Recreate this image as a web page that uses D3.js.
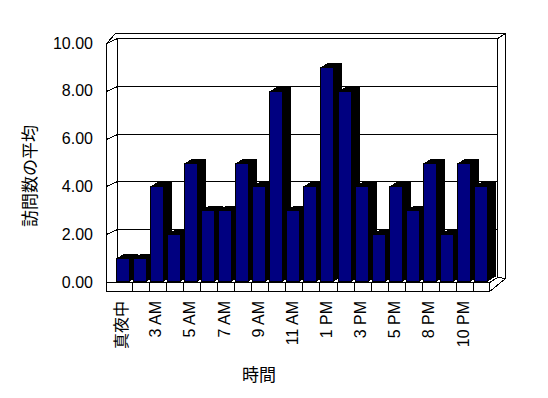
<!DOCTYPE html>
<html>
<head>
<meta charset="utf-8">
<script src="https://cdn.jsdelivr.net/npm/d3@7"></script>
<style>
  body { margin: 0; background: #fff; }
  text { font-family: "Liberation Sans", "Noto Sans CJK JP", sans-serif; }
</style>
</head>
<body>
<script>
const width = 548;
const height = 398;

// 時間帯ごとの訪問数の平均
const hours = ["真夜中", "1 AM", "3 AM", "4 AM", "5 AM", "6 AM", "7 AM", "8 AM", "9 AM", "10 AM", "11 AM", "正午",
    "1 PM", "2 PM", "3 PM", "4 PM", "5 PM", "6 PM", "8 PM", "9 PM", "10 PM", "11 PM"];
const visits = [1, 1, 4, 2, 5, 3, 3, 5, 4, 8, 3, 4, 9, 8, 4, 2, 4, 3, 5, 2, 5, 4];
const yTicks = [0, 2, 4, 6, 8, 10];
const shownLabels = ["真夜中", "3 AM", "5 AM", "7 AM", "9 AM", "11 AM", "1 PM", "3 PM", "5 PM", "8 PM", "10 PM"];

const color = {
    bar: "#000080",
    side: "#000000",
    line: "#000000",
    wall: "#ffffff"
}

// 奥行き（3D のずらし）
const depth = { dx: 11, dy: 5 };
const barDepth = { dx: 8, dy: 5 };

let svg = d3.select("body").append("svg")
    .attr("width", width)
    .attr("height", height)

svg.append("rect")
    .attr("width", width)
    .attr("height", height)
    .attr("fill", "#fff")

let x = d3.scaleBand()
    .domain(hours)
    .range([114.6, 114.6 + 17.07 * hours.length])
    .padding(0);

let y = d3.scaleLinear()
    .domain([0, 10])
    .range([282, 43]);

const left = 106;
const right = x.range()[1] - 1;   // floor front right edge
const floorBottom = 291;

let g = svg.append("g")
    .attr("transform", "translate(0.5,0.5)")
    .attr("shape-rendering", "crispEdges");

// outer box
g.append("polygon")
    .attr("points", [[left, floorBottom], [left, y(10)], [left + 9, y(10) - 10], [right + depth.dx + 5, y(10) - 10],
        [right + depth.dx + 5, y(0) - 4], [right, floorBottom]].map(p => p.join(",")).join(" "))
    .attr("fill", color.wall)
    .attr("stroke", color.line)

// back wall front face
const bx0 = left + depth.dx;
const bx1 = right + depth.dx - 3;
g.append("path")
    .attr("d", `M${bx0},${y(0) - depth.dy}V${y(10) - depth.dy}H${bx1}V${y(0) - depth.dy}`)
    .attr("fill", "none")
    .attr("stroke", color.line)
g.append("line")
    .attr("x1", left).attr("y1", y(10))
    .attr("x2", bx0).attr("y2", y(10) - depth.dy)
    .attr("stroke", color.line)
g.append("line")
    .attr("x1", bx1).attr("y1", y(10) - depth.dy)
    .attr("x2", right + depth.dx + 5).attr("y2", y(10) - 10)
    .attr("stroke", color.line)

// grid lines (left wall tick + back wall)
g.selectAll(".grid")
    .data(yTicks.filter(d => d > 0 && d < 10))
    .enter()
    .append("path")
    .attr("class", "grid")
    .attr("d", d => `M${left},${Math.round(y(d))}L${bx0},${Math.round(y(d)) - depth.dy}H${bx1}`)
    .attr("fill", "none")
    .attr("stroke", color.line)

// floor front face with category ticks
g.append("rect")
    .attr("x", left)
    .attr("y", y(0))
    .attr("width", right - left)
    .attr("height", floorBottom - y(0))
    .attr("fill", color.wall)
    .attr("stroke", color.line)

g.selectAll(".ctick")
    .data(hours.slice(1))
    .enter()
    .append("line")
    .attr("class", "ctick")
    .attr("x1", d => Math.round(x(d)))
    .attr("x2", d => Math.round(x(d)))
    .attr("y1", y(0))
    .attr("y2", floorBottom)
    .attr("stroke", color.line)

// floor right side
g.append("polygon")
    .attr("points", [[right, y(0)], [right, floorBottom], [right + depth.dx + 5, y(0) - 4], [bx1, y(0) - depth.dy]]
        .map(p => p.join(",")).join(" "))
    .attr("fill", color.wall)
    .attr("stroke", color.line)

// bars
let bars = g.selectAll(".bar")
    .data(hours.map((h, i) => ({ h: h, v: visits[i] })))
    .enter()
    .append("g")
    .attr("class", "bar")

bars.each(function (d) {
    const x0 = Math.round(x(d.h)) + 1;
    const x1 = x0 + 13;
    const top = Math.round(y(d.v));
    const bottom = y(0) - 1;
    const sel = d3.select(this);
    // side + top
    sel.append("polygon")
        .attr("points", [[x0, top], [x0 + barDepth.dx, top - barDepth.dy], [x1 + barDepth.dx, top - barDepth.dy],
            [x1 + barDepth.dx, bottom - barDepth.dy], [x1, bottom], [x0, bottom]].map(p => p.join(",")).join(" "))
        .attr("fill", color.side)
    // front
    sel.append("rect")
        .attr("x", x0)
        .attr("y", top)
        .attr("width", x1 - x0)
        .attr("height", bottom - top)
        .attr("fill", color.bar)
        .attr("stroke", color.line)
})

// y axis labels
let yAxis = d3.axisLeft(y)
    .tickValues(yTicks)
    .tickFormat(d3.format(".2f"))
    .tickSize(0)
    .tickPadding(0)

let yG = svg.append("g")
    .attr("transform", "translate(93,0)")
    .call(yAxis)
yG.select(".domain").remove()
yG.selectAll("text")
    .attr("font-size", 16)
    .attr("font-family", null)
    .attr("fill", "#000")

// x labels (every other category)
svg.selectAll(".xlabel")
    .data(shownLabels)
    .enter()
    .append("text")
    .attr("class", "xlabel")
    .attr("transform", d => `translate(${x(d) + x.bandwidth() / 2 + 4},301) rotate(-90)`)
    .attr("text-anchor", "end")
    .attr("font-size", 16)
    .attr("fill", "#000")
    .text(d => d)

// axis titles
svg.append("text")
    .attr("transform", "translate(36,176) rotate(-90)")
    .attr("text-anchor", "middle")
    .attr("font-size", 17)
    .attr("fill", "#000")
    .text("訪問数の平均")

svg.append("text")
    .attr("x", 259)
    .attr("y", 381)
    .attr("text-anchor", "middle")
    .attr("font-size", 17)
    .attr("fill", "#000")
    .text("時間")
</script>
</body>
</html>
